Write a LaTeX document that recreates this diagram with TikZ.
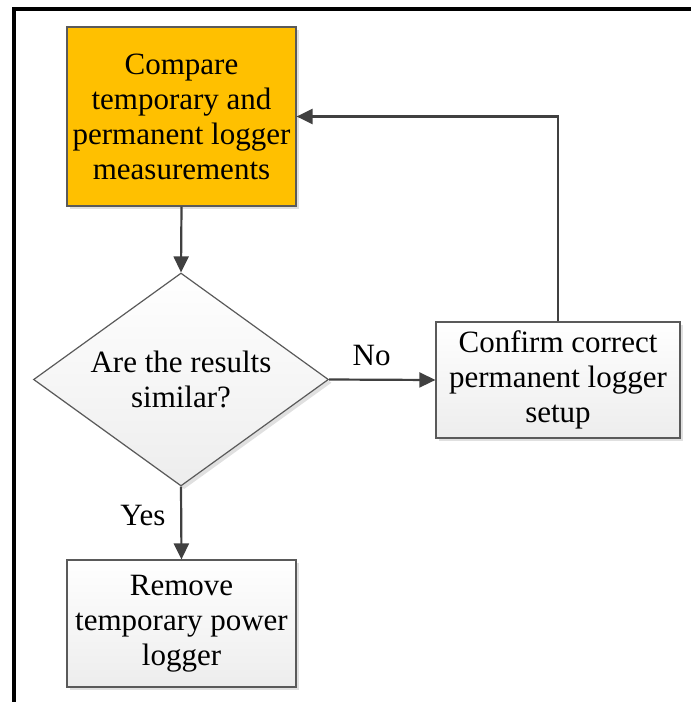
\documentclass[tikz,border=0pt]{standalone}
\usepackage{fontspec}
\setmainfont{Liberation Serif}
\usepackage{xcolor}
\usepackage{tikz}
\usetikzlibrary{arrows.meta,positioning,shapes.geometric,shadows}
\definecolor{amber}{HTML}{FFC000}
\definecolor{edge}{HTML}{5A5A5A}
\definecolor{wire}{HTML}{404040}
\definecolor{paleend}{HTML}{EDEDED}
\tikzset{
  flowtext/.style={font=\fontsize{15.5}{17.5}\selectfont,align=center,
                   text=black},
  hotbox/.style={flowtext,draw=edge,fill=amber,line width=0.6pt,
                 inner sep=0pt,
                 drop shadow={shadow xshift=1.6pt,shadow yshift=-1.6pt,
                              fill=black!20,opacity=0.6}},
  palebox/.style={flowtext,draw=edge,top color=white,bottom color=paleend,
                  line width=0.6pt,inner sep=0pt,
                  drop shadow={shadow xshift=1.6pt,shadow yshift=-1.6pt,
                               fill=black!20,opacity=0.6}},
  decision/.style={palebox,diamond,aspect=1.4},
  flowarrow/.style={-{Triangle[length=8pt,width=7.5pt]},line width=1.1pt,
                    wire},
  flowlabel/.style={font=\fontsize{15.5}{17.5}\selectfont,text=black},
}

\begin{document}
\begin{tikzpicture}[x=0.5pt,y=-0.5pt]
  \useasboundingbox (0,0) rectangle (691,702);

  % frame, top and left edges only
  \draw[black,line width=2pt] (14,702) -- (14,9) -- (691,9);

  % process steps
  \node[hotbox,minimum width=114.5pt,minimum height=89.5pt]
    (compare) at (181.5,116.5)
    {Compare\\temporary and\\permanent logger\\measurements};
  \node[decision,minimum width=147.5pt,minimum height=106.5pt]
    (similar) at (181,379.5) {Are the results\\similar?};
  \node[palebox,minimum width=122pt,minimum height=58pt]
    (confirm) at (558,380)
    {Confirm correct\\permanent logger\\setup};
  \node[palebox,minimum width=114.5pt,minimum height=63.5pt]
    (remove) at (181.5,623.5)
    {Remove\\temporary power\\logger};

  % connectors
  \draw[flowarrow] (compare.south) -- (similar.north);
  \draw[flowarrow] (similar.east) -- (confirm.west)
    node[flowlabel,pos=0.4,above=3pt] (nolabel) {No};
  \draw[flowarrow] (similar.south) -- (remove.north)
    node[flowlabel,pos=0.4,left=4pt] (yeslabel) {Yes};
  \draw[flowarrow] (confirm.north) |- (compare.east);
\end{tikzpicture}
\end{document}
